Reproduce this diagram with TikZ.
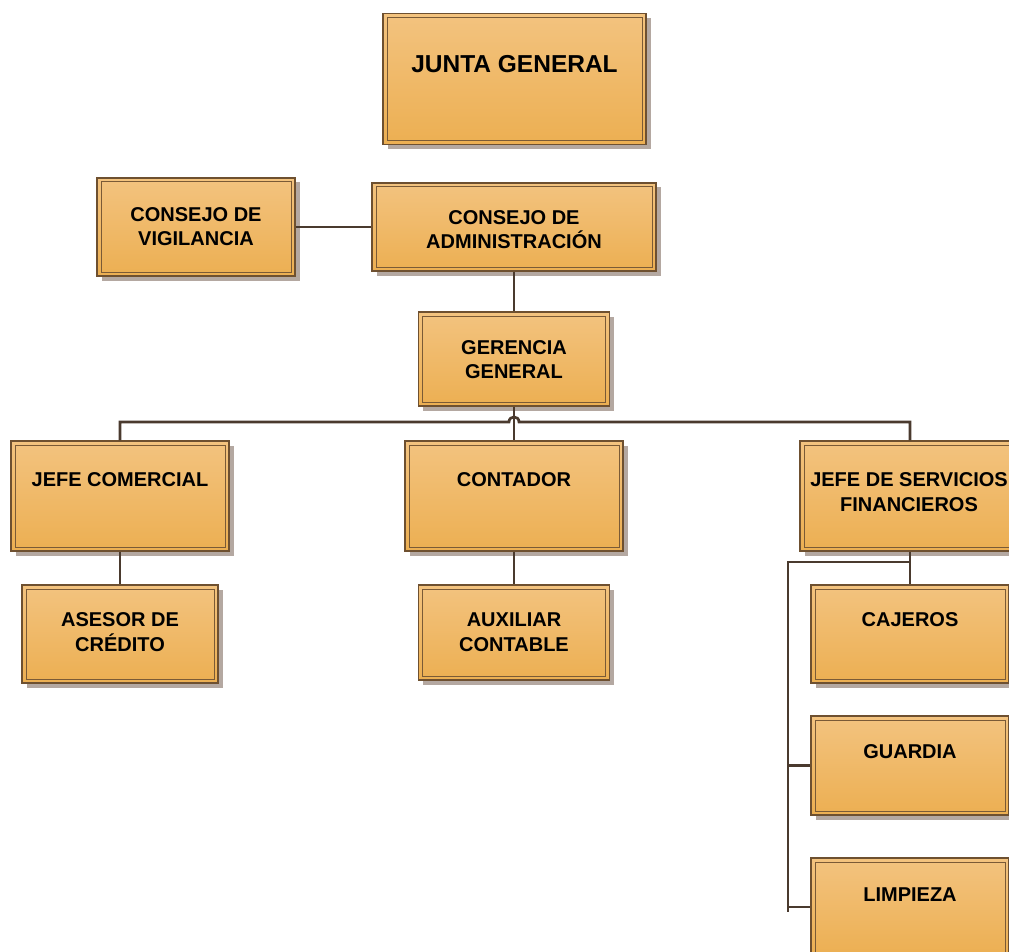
\documentclass[tikz,border=0pt]{standalone}
\usepackage{fontspec}
\setmainfont{Liberation Sans}
\usetikzlibrary{shadows,calc}

\definecolor{boxtop}{HTML}{F3C37F}
\definecolor{boxbot}{HTML}{ECAF52}
\definecolor{boxedge}{HTML}{6E5030}
\definecolor{inneredge}{HTML}{7A5A36}
\definecolor{shadowc}{HTML}{B4A8A1}
\definecolor{linkc}{HTML}{4A3A2E}

\begin{document}
\begin{tikzpicture}[x=1pt,y=-1pt,
  orgbox/.style n args={2}{
    draw=boxedge, line width=1.2pt,
    top color=boxtop, bottom color=boxbot,
    minimum width=#1pt, minimum height=#2pt, inner sep=0pt,
    drop shadow={fill=shadowc, opacity=1, shadow xshift=4.5pt, shadow yshift=-4.5pt},
    path picture={\draw[inneredge, line width=1pt]
      ([shift={(4pt,4pt)}]path picture bounding box.south west) rectangle
      ([shift={(-4pt,-4pt)}]path picture bounding box.north east);}
  },
  txt/.style={font=\bfseries\fontsize{20}{24.5}\selectfont, align=center,
    inner sep=0pt, anchor=north, text=black},
  bigtxt/.style={txt, font=\bfseries\fontsize{24.5}{29}\selectfont},
  conn/.style={draw=linkc, line width=2.7pt}
]
\useasboundingbox (0,0) rectangle (1009,952);

% ---- boxes ----
\node[orgbox={263}{131}] (junta) at (514.5,79) {};
\node[orgbox={198}{98}]  (vig)   at (196,227)   {};
\node[orgbox={284}{88}]  (admin) at (514,227)   {};
\node[orgbox={191}{94}]  (ger)   at (514,359)   {};
\node[orgbox={218}{110}] (com)   at (120,496)   {};
\node[orgbox={218}{110}] (cont)  at (514,496)   {};
\node[orgbox={220}{110}] (jsf)   at (910,496)   {};
\node[orgbox={196}{98}]  (ase)   at (120,634)   {};
\node[orgbox={191}{95}]  (aux)   at (514,632.5) {};
\node[orgbox={198}{98}]  (caj)   at (910,634)   {};
\node[orgbox={198}{99}]  (gua)   at (910,765.5) {};
\node[orgbox={198}{98}]  (lim)   at (910,907)   {};

% ---- texts ----
\node[bigtxt] (junta-t) at (junta.north |- 0,55)  {JUNTA GENERAL};
\node[txt] (vig-t)   at (vig.north |- 0,207)   {CONSEJO DE\\VIGILANCIA};
\node[txt] (admin-t) at (admin.north |- 0,210) {CONSEJO DE\\ADMINISTRACIÓN};
\node[txt] (ger-t)   at (ger.north |- 0,340)   {GERENCIA\\GENERAL};
\node[txt] (com-t)   at (com.north |- 0,472.7) {JEFE COMERCIAL};
\node[txt] (cont-t)  at (cont.north |- 0,472.7) {CONTADOR};
\node[txt] (jsf-t)   at (909,472.7)            {JEFE DE SERVICIOS\\FINANCIEROS};
\node[txt] (ase-t)   at (ase.north |- 0,612.7) {ASESOR DE\\CRÉDITO};
\node[txt] (aux-t)   at (aux.north |- 0,612.7) {AUXILIAR\\CONTABLE};
\node[txt] (caj-t)   at (caj.north |- 0,612.7) {CAJEROS};
\node[txt] (gua-t)   at (gua.north |- 0,744.3) {GUARDIA};
\node[txt] (lim-t)   at (lim.north |- 0,887.7) {LIMPIEZA};

% ---- connectors ----
\coordinate (hub) at (ger.south |- 0,422);
\coordinate (sb)  at (788,562);

\draw[conn] (vig.east) -- (admin.west);
\draw[conn] (admin.south) -- (ger.north);
\draw[conn] (ger.south) -- (ger.south |- cont.north);
% main bus with a small hop over the central vertical line
\draw[conn] (com.north) |- ([xshift=-5pt]hub)
  .. controls +(0,-6.7) and +(0,-6.7) .. ([xshift=5pt]hub) -| (jsf.north);
\draw[conn] (com.south) -- (ase.north);
\draw[conn] (cont.south) -- (aux.north);
\draw[conn] (jsf.south) -- (caj.north);
\draw[conn] (jsf.south |- sb) -- (sb) -- (sb |- 0,912);
\draw[conn] (sb |- gua.west) -- (gua.west);
\draw[conn] (sb |- lim.west) -- (lim.west);
\end{tikzpicture}
\end{document}
